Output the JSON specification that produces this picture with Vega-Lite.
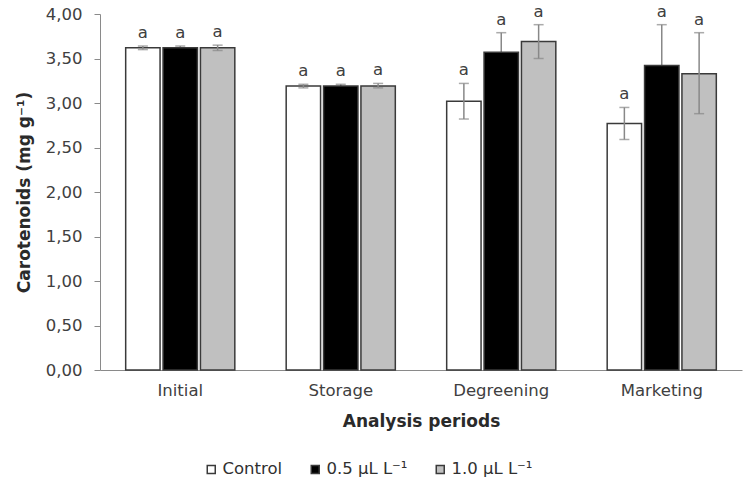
{
  "$schema": "https://vega.github.io/schema/vega-lite/v6.json",
  "autosize": {"type": "none"},
  "width": 642,
  "height": 356,
  "padding": {"left": 100, "top": 14, "right": 2, "bottom": 116},
  "background": "white",
  "config": {
    "view": {"stroke": null},
    "font": "DejaVu Sans",
    "axis": {"domainColor": "#8a8a8a", "tickColor": "#8a8a8a", "labelColor": "#404040", "titleColor": "#2a2a2a", "labelFontSize": 16.5, "titleFontSize": 17, "titleFontWeight": "bold", "grid": false}
  },
  "data": {"values": [
    {"period": "Initial", "treatment": "Control", "mean": 3.62, "lo": 3.60, "hi": 3.64, "letter": "a"},
    {"period": "Initial", "treatment": "0.5 µL L⁻¹", "mean": 3.62, "lo": 3.60, "hi": 3.64, "letter": "a"},
    {"period": "Initial", "treatment": "1.0 µL L⁻¹", "mean": 3.62, "lo": 3.59, "hi": 3.65, "letter": "a"},
    {"period": "Storage", "treatment": "Control", "mean": 3.19, "lo": 3.17, "hi": 3.21, "letter": "a"},
    {"period": "Storage", "treatment": "0.5 µL L⁻¹", "mean": 3.19, "lo": 3.18, "hi": 3.21, "letter": "a"},
    {"period": "Storage", "treatment": "1.0 µL L⁻¹", "mean": 3.19, "lo": 3.17, "hi": 3.22, "letter": "a"},
    {"period": "Degreening", "treatment": "Control", "mean": 3.02, "lo": 2.82, "hi": 3.22, "letter": "a"},
    {"period": "Degreening", "treatment": "0.5 µL L⁻¹", "mean": 3.57, "lo": 3.35, "hi": 3.79, "letter": "a"},
    {"period": "Degreening", "treatment": "1.0 µL L⁻¹", "mean": 3.69, "lo": 3.50, "hi": 3.88, "letter": "a"},
    {"period": "Marketing", "treatment": "Control", "mean": 2.77, "lo": 2.59, "hi": 2.95, "letter": "a"},
    {"period": "Marketing", "treatment": "0.5 µL L⁻¹", "mean": 3.42, "lo": 2.96, "hi": 3.88, "letter": "a"},
    {"period": "Marketing", "treatment": "1.0 µL L⁻¹", "mean": 3.33, "lo": 2.88, "hi": 3.79, "letter": "a"}
  ]},
  "encoding": {
    "x": {"field": "period", "type": "nominal", "sort": ["Initial", "Storage", "Degreening", "Marketing"],
          "scale": {"paddingInner": 0.32, "paddingOuter": 0.16},
          "axis": {"title": "Analysis periods", "labelAngle": 0, "ticks": false, "labelPadding": 12, "titlePadding": 15}},
    "xOffset": {"field": "treatment", "type": "nominal", "sort": ["Control", "0.5 µL L⁻¹", "1.0 µL L⁻¹"], "scale": {"paddingInner": 0.08}}
  },
  "layer": [
    {
      "transform": [{"filter": "datum.treatment === '0.5 µL L⁻¹'"}],
      "layer": [
        {"mark": {"type": "rule", "color": "#888888", "strokeWidth": 1.5},
         "encoding": {"y": {"field": "lo", "type": "quantitative"}, "y2": {"field": "hi"}}},
        {"mark": {"type": "tick", "color": "#888888", "thickness": 1.5, "size": 10},
         "encoding": {"y": {"field": "hi", "type": "quantitative"}}}
      ]
    },
    {
      "mark": {"type": "bar", "stroke": "#3a3a3a", "strokeWidth": 1.5},
      "encoding": {
        "y": {"field": "mean", "type": "quantitative", "scale": {"domain": [0, 4]},
              "axis": {"title": "Carotenoids (mg g⁻¹)", "values": [0, 0.5, 1, 1.5, 2, 2.5, 3, 3.5, 4], "labelExpr": "replace(format(datum.value, '.2f'), '.', ',')", "tickSize": 6, "labelPadding": 12, "titlePadding": 12}},
        "fill": {"field": "treatment", "type": "nominal", "sort": ["Control", "0.5 µL L⁻¹", "1.0 µL L⁻¹"],
                 "scale": {"domain": ["Control", "0.5 µL L⁻¹", "1.0 µL L⁻¹"], "range": ["#ffffff", "#000000", "#c0c0c0"]},
                 "legend": {"title": null, "orient": "none", "legendX": 103, "legendY": 447, "direction": "horizontal", "symbolType": "square", "symbolSize": 64, "symbolStrokeColor": "#3a3a3a", "symbolStrokeWidth": 1.5, "labelFontSize": 16.5, "labelColor": "#303030", "labelOffset": 3, "columnPadding": 24}}
      }
    },
    {
      "transform": [{"filter": "datum.treatment !== '0.5 µL L⁻¹'"}],
      "layer": [
        {"mark": {"type": "rule", "color": "#888888", "strokeWidth": 1.5},
         "encoding": {"y": {"field": "lo", "type": "quantitative"}, "y2": {"field": "hi"}}},
        {"mark": {"type": "tick", "color": "#888888", "thickness": 1.5, "size": 10},
         "encoding": {"y": {"field": "lo", "type": "quantitative"}}},
        {"mark": {"type": "tick", "color": "#888888", "thickness": 1.5, "size": 10},
         "encoding": {"y": {"field": "hi", "type": "quantitative"}}}
      ]
    },
    {
      "mark": {"type": "text", "dy": -13, "fontSize": 16.5, "color": "#404040"},
      "encoding": {"y": {"field": "hi", "type": "quantitative"}, "text": {"field": "letter"}}
    }
  ]
}
